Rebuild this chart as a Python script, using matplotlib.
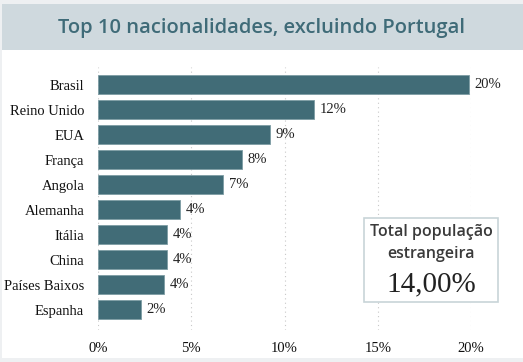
import matplotlib.pyplot as plt
from matplotlib.patches import Rectangle

# dados
paises = ['Brasil', 'Reino Unido', 'EUA', 'França', 'Angola', 'Alemanha',
          'Itália', 'China', 'Países Baixos', 'Espanha']
valores = [19.9, 11.6, 9.2, 7.7, 6.7, 4.4, 3.7, 3.7, 3.55, 2.3]
xticks = [0, 5, 10, 15, 20]
titulo = 'Top 10 nacionalidades, excluindo Portugal'
total = '14,00%'

W, H = 523, 362
fig = plt.figure(figsize=(W / 100, H / 100), dpi=100, facecolor='#eef0f2')

# painel branco e faixa do titulo
fig.patches.append(Rectangle((2 / W, 4 / H), 1, (H - 8) / H, transform=fig.transFigure,
                             facecolor='white', edgecolor='none', zorder=-2))
fig.patches.append(Rectangle((2 / W, (H - 50) / H), 1, 46 / H, transform=fig.transFigure,
                             facecolor='#cfd9de', edgecolor='none', zorder=-1))
fig.text(262 / W, (H - 28) / H, titulo, ha='center', va='center', fontsize=14.5,
         fontweight='semibold', color='#3f6b78', family='Open Sans')

ax = fig.add_axes([98 / W, (H - 330) / H, 373 / W, 263 / H])
ax.set_zorder(1)
ax.set_facecolor('none')
y = list(range(len(paises)))
ax.barh(y, valores, height=0.76, color='#416c77', edgecolor='#7d9ca4', linewidth=0.6, zorder=2)
for yi, v in zip(y, valores):
    ax.text(v + 0.3, yi, f'{v:.0f}%', va='center', ha='left', fontsize=10.5,
            family='Liberation Serif', color='#222222', clip_on=False)

ax.set_xlim(0, 20)
ax.set_ylim(9.8, -0.7)
ax.set_yticks(y)
ax.set_yticklabels(paises, family='Liberation Serif', fontsize=10.5, color='#111111')
ax.set_xticks(xticks)
ax.set_xticklabels([f'{t}%' for t in xticks], family='Liberation Serif', fontsize=10.5,
                   color='#111111')
ax.tick_params(length=0, pad=10)
ax.tick_params(axis='x', pad=9)
ax.grid(axis='x', linestyle=(0, (1, 3)), color='#c8c8c8', linewidth=0.8, zorder=0)
for s in ax.spines.values():
    s.set_visible(False)

# caixa do total
fig.patches.append(Rectangle((364 / W, (H - 302) / H), 134 / W, 84 / H, transform=fig.transFigure,
                             facecolor='white', edgecolor='#c8d4d8', linewidth=1.2, zorder=3))
fig.text(431 / W, (H - 232) / H, 'Total população', ha='center', va='center', fontsize=11.5,
         fontweight='semibold', family='Open Sans', color='#3a3a3a', zorder=4)
fig.text(431 / W, (H - 254) / H, 'estrangeira', ha='center', va='center', fontsize=11.5,
         fontweight='semibold', family='Open Sans', color='#3a3a3a', zorder=4)
fig.text(431 / W, (H - 284) / H, total, ha='center', va='center', fontsize=21,
         family='Liberation Serif', color='#222222', zorder=4)

fig.savefig('out.png', dpi=100, facecolor=fig.get_facecolor())
